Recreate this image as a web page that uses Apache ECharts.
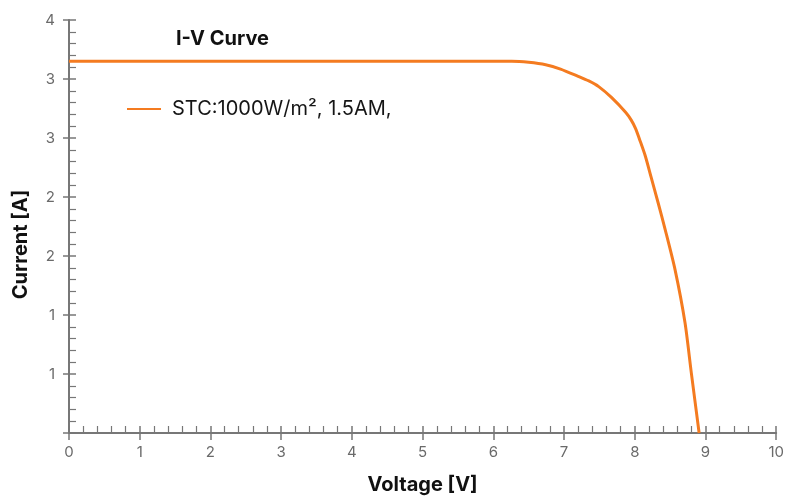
<!DOCTYPE html>
<html>
<head>
<meta charset="utf-8">
<script src="https://cdn.jsdelivr.net/npm/echarts@6/dist/echarts.min.js"></script>
<style>html,body{margin:0;padding:0;background:#fff}#c{width:787px;height:500px}</style>
</head>
<body>
<div id="c"></div>
<script>
// Voltage [V] and Current [A]
const voltage = [0, 1, 2, 3, 4, 5, 6, 6.26, 6.5, 6.74, 6.95, 7.2, 7.35, 7.49, 7.67, 7.87, 7.95, 8.01, 8.08, 8.15, 8.23, 8.33, 8.43, 8.57, 8.71, 8.80, 8.91];
const current = [3.6, 3.6, 3.6, 3.6, 3.6, 3.6, 3.6, 3.6, 3.59, 3.567, 3.525, 3.455, 3.41, 3.355, 3.25, 3.106, 3.03, 2.95, 2.82, 2.68, 2.48, 2.23, 1.97, 1.58, 1.07, 0.58, 0.0];
const seriesName = 'STC:1000W/m\u00B2, 1.5AM,';
const titleText = 'I-V Curve';
const xName = 'Voltage [V]';
const yName = 'Current [A]';
const xTicks = { min: 0, max: 10, interval: 1 };
const yTicks = { min: 0, max: 4, interval: 4 / 7 };

const chart = echarts.init(document.getElementById('c'), null, { renderer: 'canvas' });
const font = 'Inter, "Noto Sans", sans-serif';
const axisGray = '#777';
const labelGray = '#6a6a6a';

const pts = voltage.map((v, i) => [v, current[i]]);

chart.setOption({
  animation: false,
  textStyle: { fontFamily: font },
  title: {
    text: titleText, left: 171, top: 24,
    textStyle: { fontFamily: font, fontSize: 20, fontWeight: 'bold', color: '#111' }
  },
  legend: {
    left: 122, top: 94, itemWidth: 34, itemHeight: 14, itemGap: 10,
    icon: 'path://M0,6 L34,6 L34,8 L0,8 Z',
    data: [seriesName],
    textStyle: { fontFamily: font, fontSize: 20, color: '#151515', padding: [0, 0, 0, 6] }
  },
  grid: { left: 69, right: 9, top: 20, bottom: 64, containLabel: false },
  xAxis: [{
    type: 'value', min: xTicks.min, max: xTicks.max, interval: xTicks.interval,
    name: xName, nameLocation: 'middle', nameGap: 42,
    nameTextStyle: { fontFamily: font, fontSize: 20, fontWeight: 'bold', color: '#111' },
    axisLine: { show: true, onZero: false, lineStyle: { color: axisGray, width: 2 } },
    axisTick: { show: true, inside: true, length: 7, lineStyle: { color: axisGray, width: 1.5 } },
    minorTick: { show: true, splitNumber: 5, length: 7, lineStyle: { color: axisGray, width: 1.2 } },
    axisLabel: { margin: 12, fontSize: 15, color: labelGray, fontFamily: font },
    splitLine: { show: false }
  }, {
    type: 'value', min: xTicks.min, max: xTicks.max, interval: xTicks.interval, position: 'bottom', offset: 0,
    axisLine: { show: false },
    axisTick: { show: true, inside: false, length: 7, lineStyle: { color: axisGray, width: 1.5 } },
    axisLabel: { show: false }, splitLine: { show: false }
  }],
  yAxis: [{
    type: 'value', min: yTicks.min, max: yTicks.max, interval: yTicks.interval,
    name: yName, nameLocation: 'middle', nameGap: 38,
    nameTextStyle: { fontFamily: font, fontSize: 20, fontWeight: 'bold', color: '#111', padding: [0, 36, 0, 0] },
    axisLine: { show: true, onZero: false, lineStyle: { color: axisGray, width: 2 } },
    axisTick: { show: true, inside: true, length: 7, lineStyle: { color: axisGray, width: 1.5 } },
    minorTick: { show: true, splitNumber: 5, length: 7, lineStyle: { color: axisGray, width: 1.2 } },
    axisLabel: {
      margin: 14, fontSize: 15, color: labelGray, fontFamily: font,
      formatter: v => (Math.abs(v) < 1e-9 ? '' : String(Math.round(v)))
    },
    splitLine: { show: false }
  }, {
    type: 'value', min: yTicks.min, max: yTicks.max, interval: yTicks.interval, position: 'left', offset: 0,
    axisLine: { show: false },
    axisTick: { show: true, inside: false, length: 6, lineStyle: { color: axisGray, width: 1.5 } },
    axisLabel: { show: false }, splitLine: { show: false }
  }],
  series: [{
    name: seriesName, type: 'line', data: pts, smooth: 0.25, showSymbol: false,
    xAxisIndex: 0, yAxisIndex: 0,
    lineStyle: { color: '#f47b20', width: 3, join: 'round' }, itemStyle: { color: '#f47b20' }
  }]
});
</script>
</body>
</html>
